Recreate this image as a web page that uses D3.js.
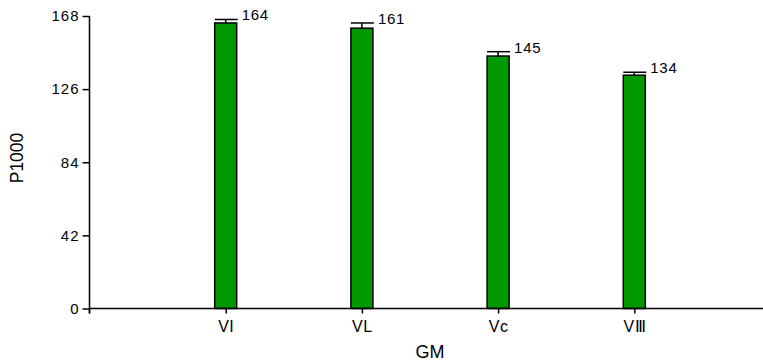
<!DOCTYPE html>
<html>
<head>
<meta charset="utf-8">
<script src="https://cdn.jsdelivr.net/npm/d3@7"></script>
<style>
  html, body { margin: 0; padding: 0; background: #fff; }
  svg { display: block; font-family: "Liberation Sans", Arial, sans-serif; }
  .tick text { font-family: "Liberation Sans", Arial, sans-serif; fill: #000; }
</style>
</head>
<body>
<svg id="chart" width="763" height="363"></svg>
<script>
// Thousand-grain weight (P1000) by GM group
const categories = ["VI", "VL", "Vc", "VⅢ"];
const values = [164, 161, 145, 134];
const errors = [2, 3, 2.5, 1.7];
const yTicks = [0, 42, 84, 126, 168];

const svg = d3.select("#chart");
const x0 = 89.5, x1 = 770.5, yBase = 308.5, yTop = 16;

const x = d3.scalePoint().domain(categories).range([x0, x1]).padding(1);
const y = d3.scaleLinear().domain([0, 168]).range([yBase, yTop]);
const barW = 22;

// bars
svg.append("g").selectAll("rect").data(values).join("rect")
  .attr("x", (d, i) => x(categories[i]) - barW / 2)
  .attr("y", d => y(d))
  .attr("width", barW)
  .attr("height", d => yBase - y(d))
  .attr("fill", "#009900")
  .attr("stroke", "#000")
  .attr("stroke-width", 1.5);

// error bars (upper whisker + cap)
const eb = svg.append("g").attr("stroke", "#000").attr("stroke-width", 1.5);
values.forEach((v, i) => {
  const cx = x(categories[i]);
  eb.append("line").attr("x1", cx).attr("x2", cx).attr("y1", y(v)).attr("y2", y(v + errors[i]));
  eb.append("line").attr("x1", cx - barW / 2).attr("x2", cx + barW / 2 + 1)
    .attr("y1", y(v + errors[i])).attr("y2", y(v + errors[i]));
});

// value labels
svg.append("g").selectAll("text").data(values).join("text")
  .attr("x", (d, i) => x(categories[i]) + barW / 2 + 5)
  .attr("y", (d, i) => y(d + errors[i]) + 1)
  .style("font-size", "15px")
  .style("letter-spacing", "0.7px")
  .attr("fill", "#000")
  .text(d => d);

// y axis
const yAxis = svg.append("g").attr("transform", `translate(${x0},0)`)
  .call(d3.axisLeft(y).tickValues(yTicks).tickSize(7).tickPadding(3));
yAxis.select(".domain").attr("d", `M0,${yTop}V${yBase + 5}`);
yAxis.selectAll("line, path").attr("stroke", "#000").attr("stroke-width", 1.5);
yAxis.selectAll("text").style("font-size", "15px").style("letter-spacing", "1px");

// x axis
const xAxis = svg.append("g").attr("transform", `translate(0,${yBase})`)
  .call(d3.axisBottom(x).tickSize(5).tickPadding(7));
xAxis.select(".domain").attr("d", `M${x0},5V0H${x1}`);
xAxis.selectAll("line, path").attr("stroke", "#000").attr("stroke-width", 1.5);
xAxis.selectAll("text").style("font-size", "16px").style("letter-spacing", "0.5px");

// axis titles
svg.append("text").attr("x", 430).attr("y", 358).attr("text-anchor", "middle")
  .style("font-size", "18px").text("GM");
svg.append("text").attr("transform", "translate(23,158) rotate(-90)")
  .attr("text-anchor", "middle").style("font-size", "17.5px").text("P1000");
</script>
</body>
</html>
